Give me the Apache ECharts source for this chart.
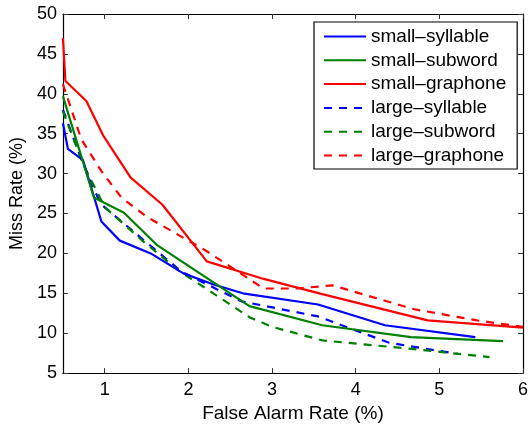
<!DOCTYPE html>
<html>
<head>
<meta charset="utf-8">
<script src="https://cdn.jsdelivr.net/npm/echarts@6/dist/echarts.min.js"></script>
<style>
  html, body { margin: 0; padding: 0; background: #fff; }
  #chart { width: 531px; height: 428px; }
</style>
</head>
<body>
<div id="chart"></div>
<script>
// Detection trade-off curves: [false alarm rate %, miss rate %]
const smallSyllable = [[0.5,36.3],[0.56,33.1],[0.74,31.7],[0.96,24.0],[1.18,21.6],[1.55,20.0],[1.94,17.5],[2.3,16.1],[2.65,15.0],[3.55,13.6],[4.35,11.0],[5.43,9.5]];
const smallSubword  = [[0.5,39.7],[0.87,27.0],[1.23,25.1],[1.63,21.0],[2.73,13.4],[3.6,11.0],[4.66,9.5],[5.76,9.0]];
const smallGraphone = [[0.5,47.0],[0.53,41.6],[0.78,39.1],[0.98,34.8],[1.31,29.5],[1.69,26.1],[2.22,19.0],[2.9,16.8],[3.6,14.9],[4.86,11.6],[6.0,10.7]];
const largeSyllable = [[0.5,38.0],[0.72,31.8],[0.95,26.2],[1.45,21.8],[1.92,17.7],[2.63,14.0],[3.55,12.1],[4.4,8.8],[5.22,7.4]];
const largeSubword  = [[0.5,37.8],[0.75,31.0],[1.0,25.8],[1.45,21.6],[1.91,17.6],[2.08,16.5],[2.73,12.0],[3.0,10.8],[3.6,9.1],[4.7,8.0],[5.6,7.0]];
const largeGraphone = [[0.5,41.2],[0.72,34.3],[0.96,30.3],[1.2,27.0],[1.5,24.6],[2.2,20.4],[2.9,15.6],[3.3,15.6],[3.72,16.0],[4.7,13.0],[5.45,11.6],[6.0,10.8]];

const seriesNames = ['small–syllable','small–subword','small–graphone','large–syllable','large–subword','large–graphone'];
const seriesData  = [smallSyllable, smallSubword, smallGraphone, largeSyllable, largeSubword, largeGraphone];
const seriesColors = ['#0000ff','#008000','#ff0000','#0000ff','#008000','#ff0000'];
const seriesDashed = [false,false,false,true,true,true];

const xTicks = [1,2,3,4,5,6];

const FONT = 'Liberation Sans, Arial, Helvetica, sans-serif';

const chart = echarts.init(document.getElementById('chart'), null, { renderer: 'canvas' });

const tickStyle = { show: true, inside: true, length: 5, lineStyle: { color: '#333', width: 1 } };
const lineStyle = { show: true, onZero: false, lineStyle: { color: '#000', width: 1.2 } };

chart.setOption({
  animation: false,
  backgroundColor: '#fff',
  grid: { left: 61, right: 5, top: 14, bottom: 51, containLabel: false },
  xAxis: [
    {
      type: 'value', min: 0.5, max: 6, position: 'bottom',
      name: 'False Alarm Rate (%)', nameLocation: 'middle', nameGap: 25,
      nameTextStyle: { fontFamily: FONT, fontSize: 19, color: '#000' },
      axisLine: lineStyle,
      axisTick: Object.assign({ customValues: xTicks }, tickStyle),
      axisLabel: { customValues: xTicks, fontFamily: FONT, fontSize: 18, color: '#000', margin: 8 },
      splitLine: { show: false }
    },
    {
      type: 'value', min: 0.5, max: 6, position: 'top',
      axisLine: lineStyle,
      axisTick: Object.assign({ customValues: xTicks }, tickStyle),
      axisLabel: { show: false },
      splitLine: { show: false }
    }
  ],
  yAxis: [
    {
      type: 'value', min: 5, max: 50, interval: 5, position: 'left',
      name: 'Miss Rate (%)', nameLocation: 'middle', nameGap: 31,
      nameTextStyle: { fontFamily: FONT, fontSize: 18, color: '#000' },
      axisLine: lineStyle,
      axisTick: tickStyle,
      axisLabel: { fontFamily: FONT, fontSize: 18, color: '#000', margin: 6 },
      splitLine: { show: false }
    },
    {
      type: 'value', min: 5, max: 50, interval: 5, position: 'right',
      axisLine: lineStyle,
      axisTick: tickStyle,
      axisLabel: { show: false },
      splitLine: { show: false }
    }
  ],
  legend: {
    orient: 'vertical',
    left: 314, top: 22,
    padding: [5, 11, 4, 9],
    itemWidth: 42, itemHeight: 14, itemGap: 4.8,
    backgroundColor: '#fff',
    borderColor: '#000', borderWidth: 1.2, borderRadius: 0,
    itemStyle: { opacity: 0 },
    textStyle: { fontFamily: FONT, fontSize: 19, color: '#000', lineHeight: 18, padding: [0, 0, 0, 0] },
    data: seriesNames
  },
  series: seriesNames.map((name, i) => ({
    name: name,
    type: 'line',
    xAxisIndex: 0,
    yAxisIndex: 0,
    data: seriesData[i],
    showSymbol: false,
    symbol: 'none',
    smooth: false,
    clip: true,
    z: seriesDashed[i] ? 2 : 3,
    color: seriesColors[i],
    lineStyle: {
      color: seriesColors[i],
      width: 2.2,
      type: seriesDashed[i] ? [8, 7] : 'solid'
    }
  }))
});
</script>
</body>
</html>
